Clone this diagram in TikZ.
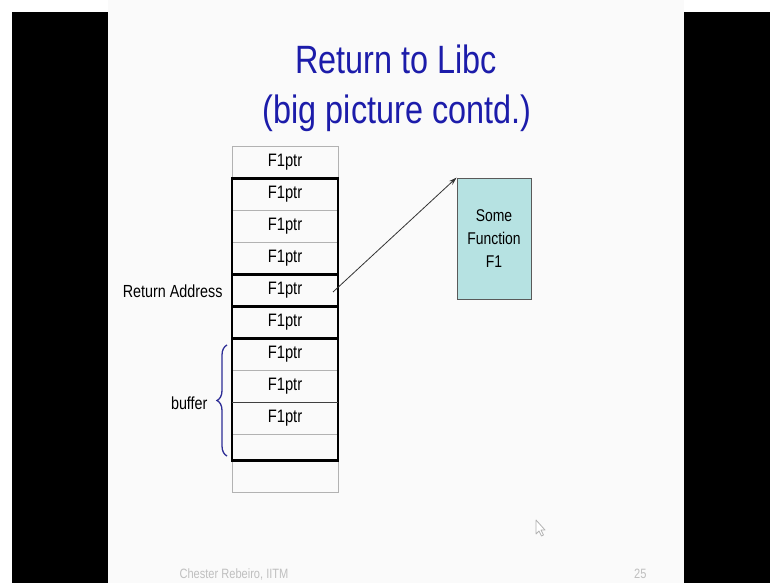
\documentclass[tikz,border=0pt]{standalone}
\usepackage{fontspec}
\setmainfont[FakeStretch=0.82]{Liberation Sans}
\usetikzlibrary{arrows.meta, positioning, decorations.pathreplacing}
\definecolor{titleblue}{RGB}{28,28,170}
\definecolor{bracecol}{RGB}{45,45,150}
\definecolor{fnfill}{RGB}{182,226,226}
\definecolor{slidebg}{RGB}{250,250,250}

\begin{document}
\begin{tikzpicture}[
  x=1pt, y=-1pt,
  node distance=0pt,
  title/.style={anchor=base, text=titleblue, font=\fontsize{39.5}{44}\selectfont},
  slot/.style={draw=gray!60, line width=0.8pt, minimum width=106pt, minimum height=32pt, inner sep=0pt, outer sep=0pt, font=\fontsize{18}{20}\selectfont},
  fnbox/.style={draw=gray!70!black, line width=0.8pt, fill=fnfill, minimum width=74pt, minimum height=121pt, align=center, font=\fontsize{17}{23}\selectfont},
  frame/.style={line width=2.4pt},
  lbl/.style={anchor=east, font=\fontsize{17.5}{20}\selectfont},
  foot/.style={text=gray!50, font=\fontsize{13.5}{16}\selectfont},
  arr/.style={-{Stealth[length=8pt,width=5pt]}, line width=0.8pt, black!80}
]

% page, side bars and slide
\useasboundingbox (0,0) rectangle (770,583);
\fill[white] (0,0) rectangle (770,583);
\fill[black] (12,12) rectangle (108,583);
\fill[black] (684,12) rectangle (770,583);
\fill[slidebg] (108,0) rectangle (684,583);

\node[title] (t1) at (396,74) {Return to Libc};
\node[title] (t2) at (397,123) {(big picture contd.)};

% stack slots
\node[slot] (s1) at (285,162.5) {F1ptr};
\node[slot, below=of s1] (s2) {F1ptr};
\node[slot, below=of s2] (s3) {F1ptr};
\node[slot, below=of s3] (s4) {F1ptr};
\node[slot, below=of s4] (s5) {F1ptr};
\node[slot, below=of s5] (s6) {F1ptr};
\node[slot, below=of s6] (s7) {F1ptr};
\node[slot, below=of s7] (s8) {F1ptr};
\node[slot, below=of s8] (s9) {F1ptr};
\node[slot, below=of s9, minimum height=26pt] (s10) {};
\node[slot, below=of s10] (s11) {};

\draw[frame] (s2.north west) rectangle (s4.south east);
\draw[frame] (s5.north west) rectangle (s5.south east);
\draw[frame] (s6.north west) rectangle (s6.south east);
\draw[frame] (s7.north west) rectangle (s10.south east);
\draw[line width=1.2pt, black!75] (s8.south west) -- (s8.south east);

\node[lbl] (retlbl) at ([xshift=-6pt,yshift=-1pt]s5.west) {Return Address};

\draw[bracecol, line width=1.3pt, decorate, decoration={brace, amplitude=10pt}]
  ([shift={(-5,-4.5)}]s10.south west) -- ([shift={(-5,6.5)}]s7.north west);
\node[lbl] (buflbl) at ([xshift=-21pt,yshift=-1pt]s8.south west) {buffer};

\node[fnbox] (func) at (494,238.5) {Some\\Function\\F1};

\draw[arr] ([shift={(-5,1.5)}]s5.east) -- (func.north west);

% footer
\node[foot, anchor=base west] (author) at (176,578) {Chester Rebeiro, IITM};
\node[foot, anchor=base east] (page) at (650,578) {25};

% mouse pointer
\draw[gray!60, line width=0.8pt, fill=white, line join=round, shift={(536,520)}]
  (0,0) -- (0,14) -- (3,11) -- (5.5,16) -- (7.5,15) -- (5,10) -- (9,10) -- cycle;

\end{tikzpicture}
\end{document}
